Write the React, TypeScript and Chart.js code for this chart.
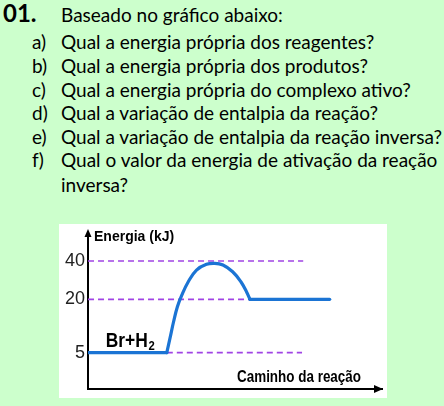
import React, { useEffect, useRef } from "react";
import { Chart, registerables, LinearScale } from "chart.js";

// ---------- data ----------
const heading = "01.";
const intro = "Baseado no gráfico abaixo:";
const questionLabels = ["a)", "b)", "c)", "d)", "e)", "f)", ""];
const questionTexts = [
  "Qual a energia própria dos reagentes?",
  "Qual a energia própria dos produtos?",
  "Qual a energia própria do complexo ativo?",
  "Qual a variação de entalpia da reação?",
  "Qual a variação de entalpia da reação inversa?",
  "Qual o valor da energia de ativação da reação",
  "inversa?",
];

const yTickValues = [5, 20, 40];
const yAxisTitle = "Energia (kJ)";
const xAxisTitle = "Caminho da reação";
const reactantLabel = "Br+H";
const reactantSub = "2";

// reaction path (x = progress along the path, y = energy in kJ)
const reactantX = [0, 26.8];
const reactantY = [5, 5];
const barrierX = [26.8, 28.0, 29.1, 30.4, 31.9, 34.1, 36.9, 40.3, 43.1, 45.9, 49.2, 52.0, 53.9, 55.1];
const barrierY = [5, 9.5, 13.7, 17.9, 22.2, 29.2, 35.3, 38.3, 38.8, 37.9, 34.4, 29.2, 24.0, 20];
const productX = [55.1, 82.2];
const productY = [20, 20];

// dashed guide levels
const guideLevels = [40, 20, 5];
const guideFrom = [0, 0, 26.8];
const guideTo = [73.2, 55.1, 72.8];

// schematic (non-proportional) energy axis: value -> fraction of axis height
const axisBreakValues = [0, 5, 20, 40, 50];
const axisBreakFractions = [0, 0.236, 0.582, 0.831, 1];

// ---------- schematic scale ----------
class SchematicScale extends LinearScale {
  static id = "schematic";
  _frac(v: number) {
    const vs = axisBreakValues;
    const fs = axisBreakFractions;
    if (v <= vs[0]) return fs[0];
    for (let i = 1; i < vs.length; i++) {
      if (v <= vs[i]) {
        const t = (v - vs[i - 1]) / (vs[i] - vs[i - 1]);
        return fs[i - 1] + t * (fs[i] - fs[i - 1]);
      }
    }
    return fs[fs.length - 1];
  }
  getPixelForValue(value: any) {
    if (value === null || value === undefined) return NaN;
    return this.getPixelForDecimal(this._frac(value));
  }
  getValueForPixel(pixel: number) {
    const d = this.getDecimalForPixel(pixel);
    const vs = axisBreakValues;
    const fs = axisBreakFractions;
    for (let i = 1; i < fs.length; i++) {
      if (d <= fs[i]) {
        const t = (d - fs[i - 1]) / (fs[i] - fs[i - 1]);
        return vs[i - 1] + t * (vs[i] - vs[i - 1]);
      }
    }
    return vs[vs.length - 1];
  }
}

Chart.register(...registerables, SchematicScale);

const toPoints = (xs: number[], ys: number[]) => xs.map((x, i) => ({ x, y: ys[i] }));

const BLUE = "#1b74d4";
const PURPLE = "#a044e4";
const ARIAL = '"Liberation Sans", Arial, sans-serif';

const annotate = {
  id: "annotate",
  afterDraw(chart: any) {
    const { ctx, chartArea: a, scales } = chart;
    const y = scales.y;
    const x = scales.x;
    ctx.save();
    ctx.fillStyle = "#000";
    // y arrow head
    ctx.beginPath();
    ctx.moveTo(a.left, a.top - 6);
    ctx.lineTo(a.left - 3.5, a.top + 2);
    ctx.lineTo(a.left + 3.5, a.top + 2);
    ctx.closePath();
    ctx.fill();
    // x arrow head
    ctx.beginPath();
    ctx.moveTo(a.right + 1, a.bottom);
    ctx.lineTo(a.right - 8, a.bottom - 4);
    ctx.lineTo(a.right - 8, a.bottom + 4);
    ctx.closePath();
    ctx.fill();

    // y axis title
    ctx.font = `bold 14px ${ARIAL}`;
    ctx.textAlign = "left";
    ctx.textBaseline = "alphabetic";
    ctx.fillText(yAxisTitle, a.left + 6, a.top + 6);

    // x axis title
    ctx.save();
    ctx.translate(a.right - 145, a.bottom - 7);
    ctx.scale(0.84, 1);
    ctx.font = `bold 16px ${ARIAL}`;
    ctx.fillText(xAxisTitle, 0, 0);
    ctx.restore();

    // reactant label
    const lx = x.getPixelForValue(6);
    const ly = y.getPixelForValue(5) - 5.6;
    ctx.save();
    ctx.translate(lx, ly);
    ctx.scale(0.87, 1);
    ctx.font = `bold 20px ${ARIAL}`;
    ctx.fillText(reactantLabel, 0, 0);
    const w = ctx.measureText(reactantLabel).width;
    ctx.font = `bold 13px ${ARIAL}`;
    ctx.fillText(reactantSub, w + 1, 2.6);
    ctx.restore();

    ctx.restore();
  },
};

function EnergyChart() {
  const ref = useRef<HTMLCanvasElement | null>(null);
  useEffect(() => {
    if (!ref.current) return;
    const guideSets = guideLevels.map((lvl, i) => ({
      data: toPoints([guideFrom[i], guideTo[i]], [lvl, lvl]),
      borderColor: PURPLE,
      borderWidth: 1.6,
      borderDash: [6, 4],
      pointRadius: 0,
      tension: 0,
    }));
    const pathStyle = {
      borderColor: BLUE,
      borderWidth: 3.2,
      pointRadius: 0,
      borderCapStyle: "round",
      borderJoinStyle: "round",
    };
    const chart = new Chart(ref.current, {
      type: "line",
      data: {
        datasets: [
          { ...pathStyle, data: toPoints(reactantX, reactantY), tension: 0 },
          { ...pathStyle, data: toPoints(barrierX, barrierY), tension: 0.4 },
          { ...pathStyle, data: toPoints(productX, productY), tension: 0 },
          ...guideSets,
        ],
      } as any,
      options: {
        responsive: false,
        animation: false,
        layout: { padding: { left: 3, right: 5, top: 11, bottom: 9 } },
        plugins: {
          legend: { display: false },
          tooltip: { enabled: false },
        },
        scales: {
          x: {
            type: "linear",
            min: 0,
            max: 100,
            ticks: { display: false },
            grid: { display: false, drawTicks: false },
            border: { display: true, color: "#000", width: 2 },
          },
          y: {
            type: "schematic",
            min: 0,
            max: 50,
            afterBuildTicks: (scale: any) => {
              scale.ticks = yTickValues.map((v) => ({ value: v }));
            },
            afterFit: (scale: any) => {
              scale.paddingTop = 0;
              scale.paddingBottom = 0;
            },
            ticks: {
              padding: 3,
              color: "#222",
              font: { family: ARIAL, size: 18 },
            },
            grid: { display: false, drawTicks: false },
            border: { display: true, color: "#000", width: 2 },
          },
        },
      } as any,
      plugins: [annotate],
    });
    return () => chart.destroy();
  }, []);
  return <canvas ref={ref} width={328} height={174} style={{ display: "block" }} />;
}

const BODY_FONT = 'Lato, "Open Sans", sans-serif';

export default function App() {
  const fs = 19;
  const lineTop = (baseline: number) => baseline - 0.887 * fs;
  const baselines = [49, 72.8, 96.6, 120.2, 144, 167, 191.7];
  return (
    <div
      style={{
        position: "absolute",
        left: 0,
        top: 0,
        width: 444,
        height: 406,
        background: "#ccffcc",
        overflow: "hidden",
        fontFamily: BODY_FONT,
        color: "#000",
      }}
    >
      <div
        style={{
          position: "absolute",
          left: 3,
          top: 22 - 0.887 * 24,
          fontSize: 24,
          fontWeight: 700,
          lineHeight: 1,
          whiteSpace: "nowrap",
        }}
      >
        {heading}
      </div>
      <div
        style={{
          position: "absolute",
          left: 61,
          top: lineTop(21.5),
          fontSize: fs,
          lineHeight: 1,
          whiteSpace: "nowrap",
        }}
      >
        {intro}
      </div>
      {questionTexts.map((t, i) => (
        <React.Fragment key={i}>
          {questionLabels[i] ? (
            <div
              style={{
                position: "absolute",
                left: 32,
                top: lineTop(baselines[i]),
                fontSize: fs,
                lineHeight: 1,
                whiteSpace: "nowrap",
              }}
            >
              {questionLabels[i]}
            </div>
          ) : null}
          <div
            style={{
              position: "absolute",
              left: 61,
              top: lineTop(baselines[i]),
              fontSize: fs,
              lineHeight: 1,
              whiteSpace: "nowrap",
            }}
          >
            {t}
          </div>
        </React.Fragment>
      ))}
      <div
        style={{
          position: "absolute",
          left: 59,
          top: 224,
          width: 328,
          height: 174,
          background: "#fff",
        }}
      >
        <EnergyChart />
      </div>
    </div>
  );
}
